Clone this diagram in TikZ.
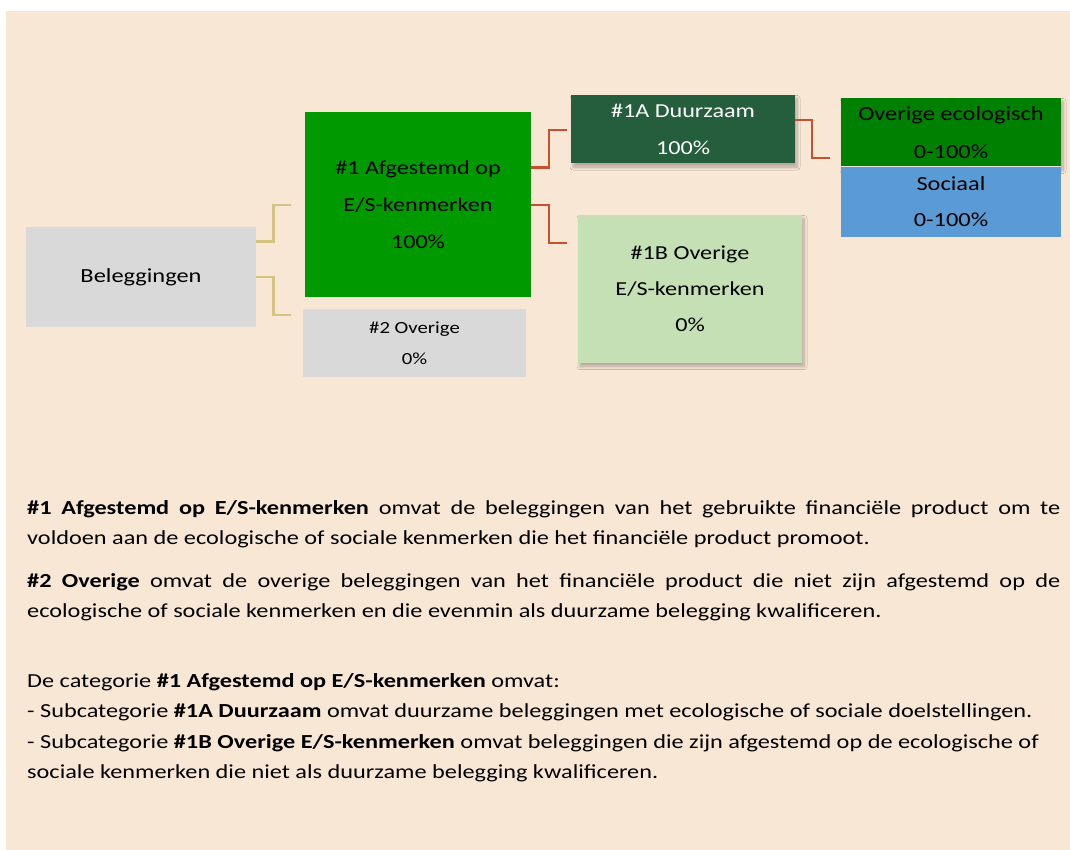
\documentclass[tikz,border=0pt]{standalone}
\usepackage{fontspec}
\setmainfont{Carlito}[FakeStretch=1.22]
\usetikzlibrary{calc,shadows.blur}
\definecolor{bgc}{HTML}{F9E7D6}
\definecolor{grayc}{HTML}{D9D9D9}
\definecolor{greenA}{HTML}{009900}
\definecolor{darkg}{HTML}{255E3C}
\definecolor{ecog}{HTML}{008000}
\definecolor{socb}{HTML}{5B9BD5}
\definecolor{lightg}{HTML}{C5E0B4}
\definecolor{tanc}{HTML}{D5C47F}
\definecolor{redc}{HTML}{C9502F}
\tikzset{
  box/.style={draw=none, inner sep=0pt, align=center},
  shad/.style={blur shadow={shadow xshift=2pt, shadow yshift=-3.5pt, shadow blur radius=3pt, shadow blur steps=8, shadow opacity=28}},
  tanline/.style={draw=tanc, line width=2.6pt},
  redline/.style={draw=redc, line width=2.5pt},
  bodytext/.style={anchor=base west, inner sep=0pt},
}
\begin{document}
\begin{tikzpicture}[x=1pt,y=-1pt]
\useasboundingbox (0,0) rectangle (1070,850);
\fill[white] (0,0) rectangle (1070,850);
\fill[bgc] (6,11) rectangle (1070,850);

% boxes
\node[box, fill=grayc, minimum width=230pt, minimum height=100pt,
  font=\fontsize{20}{24}\selectfont] (bel) at (141,277) {Beleggingen};
\node[box, fill=greenA, minimum width=226pt, minimum height=185pt,
  font=\fontsize{19.8}{37}\selectfont] (g1) at (418,204.5) {\#1 Afgestemd op\\E/S-kenmerken\\100\%};
\node[box, fill=grayc, minimum width=223pt, minimum height=68pt,
  font=\fontsize{17}{31}\selectfont] (o2) at (414.5,343) {\#2 Overige\\0\%};
\node[box, fill=darkg, text=white, minimum width=224pt, minimum height=68.5pt, shad,
  font=\fontsize{19.8}{37}\selectfont] (d1a) at (683,129.25) {\#1A Duurzaam\\100\%};
\node[box, fill=lightg, minimum width=224pt, minimum height=148pt, shad,
  font=\fontsize{19.8}{36}\selectfont] (o1b) at (690,289) {\#1B Overige\\E/S-kenmerken\\0\%};
\node[box, fill=ecog, minimum width=220pt, minimum height=69pt, shad,
  font=\fontsize{20}{38}\selectfont] (eco) at (951,132.5) {Overige ecologisch\\0-100\%};
\node[box, fill=socb, minimum width=220pt, minimum height=70pt,
  font=\fontsize{20}{36}\selectfont] (soc) at (951,202) {Sociaal\\0-100\%};
\draw[white!80!gray, line width=0.6pt] (soc.north west) -- (soc.north east);

% free ends of connectors
\coordinate (t1) at (291,205);
\coordinate (t2) at (291,315);
\coordinate (r1) at (567,130);
\coordinate (r2) at (567,243);
\coordinate (r3) at (830,158);

% connectors
\draw[tanline, draw opacity=0.35, shift={(1.5,1.5)}] ($(bel.north east)+(0,15)$) -- ++(17,0) |- (t1);
\draw[tanline, draw opacity=0.35, shift={(1.5,1.5)}] ($(bel.north east)+(0,50)$) -- ++(17,0) |- (t2);
\draw[tanline] ($(bel.north east)+(0,15)$) -- ++(17.5,0) |- (t1);
\draw[tanline] ($(bel.north east)+(0,50)$) -- ++(17.5,0) |- (t2);
\draw[redline] ($(g1.north east)+(0,55.5)$) -- ++(18,0) |- (r1);
\draw[redline] ($(g1.north east)+(0,93)$) -- ++(18,0) |- (r2);
\draw[redline] ($(d1a.north east)+(0,25)$) -- ++(17,0) |- (r3);

% body text
\node[bodytext] (p1) at (27,514) {\fontsize{19.9}{30}\selectfont\parbox[t]{1033pt}{%
\tolerance=10000\hyphenpenalty=10000\parfillskip=0pt plus 1fil\parindent=0pt
\textbf{\#1 Afgestemd op E/S-kenmerken} omvat de beleggingen van het gebruikte financiële product om te\linebreak
voldoen aan de ecologische of sociale kenmerken die het financiële product promoot.}};
\node[bodytext] (p2) at (27,587) {\fontsize{19.9}{30}\selectfont\parbox[t]{1033pt}{%
\tolerance=10000\hyphenpenalty=10000\parindent=0pt
\textbf{\#2 Overige} omvat de overige beleggingen van het financiële product die niet zijn afgestemd op de\linebreak
ecologische of sociale kenmerken en die evenmin als duurzame belegging kwalificeren.}};
\node[bodytext] (p3) at (27,687) {\fontsize{19.9}{30.6}\selectfont\parbox[t]{1040pt}{\raggedright
De categorie \textbf{\#1 Afgestemd op E/S-kenmerken} omvat:\\
- Subcategorie \textbf{\#1A Duurzaam} omvat duurzame beleggingen met ecologische of sociale doelstellingen.\\
- Subcategorie \textbf{\#1B Overige E/S-kenmerken} omvat beleggingen die zijn afgestemd op de ecologische of\\
sociale kenmerken die niet als duurzame belegging kwalificeren.}};
\end{tikzpicture}
\end{document}
